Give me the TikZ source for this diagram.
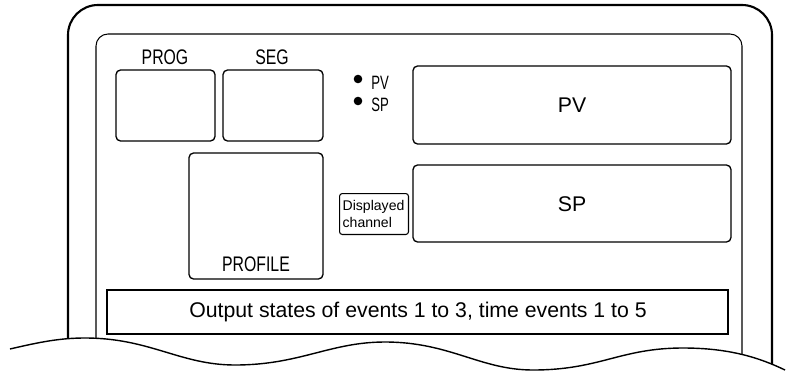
\documentclass[tikz,border=0pt]{standalone}
\usepackage{fontspec}
\setmainfont{Liberation Sans}
\newfontfamily\narrowsf[FakeStretch=0.75]{Liberation Sans}
\newfontfamily\tightsf[FakeStretch=0.68]{Liberation Sans}
\usetikzlibrary{positioning}

\begin{document}
\begin{tikzpicture}[x=0.02cm,y=-0.02cm,
  every node/.style={font=\fontsize{12.1}{14}\selectfont},
  panelbox/.style={draw,line width=0.75pt,rounded corners=2.6pt},
  narrowlabel/.style={font=\narrowsf\fontsize{12}{14}\selectfont},
  leds/.style={font=\tightsf\fontsize{11}{13}\selectfont,anchor=west,inner sep=0pt},
  frame/.style={line width=1.2pt}]
\useasboundingbox (0,0) rectangle (790,372);
% front panel frames, cut off by the wavy line
\begin{scope}
\clip (10,349) .. controls (40,342) and (60,338) .. (85,338)
  .. controls (150,338) and (180,365) .. (235,365)
  .. controls (300,365) and (330,342) .. (385,342)
  .. controls (450,342) and (480,370) .. (533,370)
  .. controls (600,370) and (620,348) .. (683,348)
  .. controls (730,348) and (760,358) .. (785,370)
  -- (790,380) -- (790,0) -- (0,0) -- (0,349) -- cycle;
\draw[frame,rounded corners=0.6cm] (68,400) -- (68,5) -- (772,5) -- (772,400);
\draw[line width=0.6pt,rounded corners=0.24cm] (96,400) -- (96,34) -- (742,34) -- (742,400);
\end{scope}
\draw[line width=0.8pt] (10,349) .. controls (40,342) and (60,338) .. (85,338)
  .. controls (150,338) and (180,365) .. (235,365)
  .. controls (300,365) and (330,342) .. (385,342)
  .. controls (450,342) and (480,370) .. (533,370)
  .. controls (600,370) and (620,348) .. (683,348)
  .. controls (730,348) and (760,358) .. (785,370);
% display windows
\draw[panelbox] (116,70) rectangle (215,141);
\node[narrowlabel] (proglabel) at (165,57) {PROG};
\draw[panelbox] (223,70) rectangle (323,141);
\node[narrowlabel] (seglabel) at (272,57) {SEG};
\draw[panelbox] (189,153) rectangle (323,279);
\node[narrowlabel] (profilelabel) at (256,264) {PROFILE};
\draw[panelbox] (413,66) rectangle (731,144);
\node (pvvalue) at (572,105) {PV};
\draw[panelbox] (413,165) rectangle (731,242);
\node (spvalue) at (572,204) {SP};
\draw[line width=0.75pt] (107,290) rectangle (728,334);
\node (eventsline) at (418,312) {Output states of events 1 to 3, time events 1 to 5};
% lamps
\fill (358,79) circle (4.3);
\node[leds] (pvlamp) at (371,83) {PV};
\fill (358,101) circle (4.3);
\node[leds] (splamp) at (371,105) {SP};
\node[draw,line width=0.6pt,rounded corners=1.6pt,anchor=north west,align=left,
  inner xsep=1.8pt,inner ysep=1pt,text width=1.38cm-3.6pt,minimum height=0.82cm,
  font=\fontsize{8}{9.6}\selectfont] (chanbox) at (339,193) {Displayed\\channel};
\end{tikzpicture}
\end{document}
